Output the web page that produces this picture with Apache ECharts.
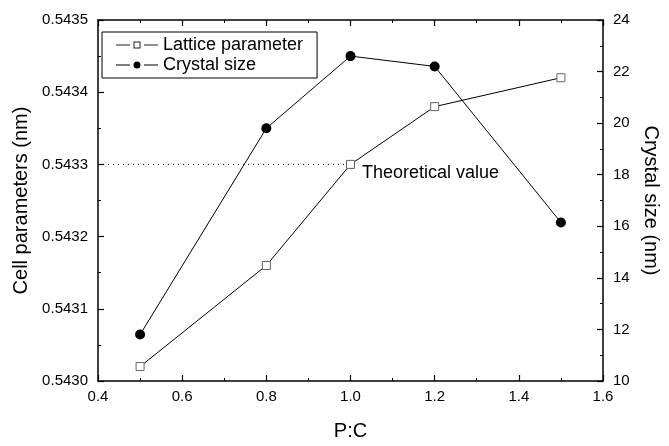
<!DOCTYPE html>
<html>
<head>
<meta charset="utf-8">
<script src="https://cdn.jsdelivr.net/npm/echarts@6/dist/echarts.min.js"></script>
<style>html,body{margin:0;padding:0;background:#fff}#c{width:669px;height:446px}</style>
</head>
<body>
<div id="c"></div>
<script>
const ratios = [0.5, 0.8, 1.0, 1.2, 1.5];
const latticeParam = [0.54302, 0.54316, 0.54330, 0.54338, 0.54342];
const crystalSize = [11.8, 19.8, 22.6, 22.2, 16.15];
const theoreticalValue = 0.5433;
const theoreticalRange = [0.4, 1.0];

const font = 'Liberation Sans, Arial, sans-serif';
const chart = echarts.init(document.getElementById('c'));
const axisCommon = {
  axisLine: {show: true, lineStyle: {color: '#000', width: 1.5}},
  axisTick: {show: true, inside: true, length: 6, lineStyle: {color: '#000', width: 1.2}},
  minorTick: {show: true, splitNumber: 2, length: 3, lineStyle: {color: '#000', width: 1}},
  splitLine: {show: false},
  axisLabel: {color: '#000', fontFamily: font, fontSize: 15},
  nameTextStyle: {color: '#000', fontFamily: font, fontSize: 20}
};
// legend icons: line - marker - line, with gaps around the marker
const iconSquare = 'path://M0 4H14V5H0Z M17.5 1H24.5V8H17.5Z M18.5 2V7H23.5V2Z M28 4H42V5H28Z';
const iconCircle = 'path://M0 4H14V5H0Z M28 4H42V5H28Z M17.5 4.5A3.5 3.5 0 1 0 24.5 4.5A3.5 3.5 0 1 0 17.5 4.5Z';
chart.setOption({
  animation: false,
  grid: {left: 98, right: 66, top: 20, bottom: 53},
  legend: {
    orient: 'vertical', left: 102, top: 32,
    borderColor: '#000', borderWidth: 1, padding: [4, 14, 4, 14], itemGap: 2,
    itemWidth: 42, itemHeight: 9, itemTextGap: 7, symbolKeepAspect: true,
    textStyle: {color: '#000', fontFamily: font, fontSize: 18},
    data: [
      {name: 'Lattice parameter', icon: iconSquare, itemStyle: {color: '#222', borderWidth: 0}},
      {name: 'Crystal size', icon: iconCircle, itemStyle: {color: '#000', borderWidth: 0}}
    ]
  },
  xAxis: [
    Object.assign({}, axisCommon, {type: 'value', min: 0.4, max: 1.6, interval: 0.2, name: 'P:C',
      nameLocation: 'middle', nameGap: 40,
      axisLabel: Object.assign({}, axisCommon.axisLabel, {margin: 8, formatter: v => v.toFixed(1)})}),
    Object.assign({}, axisCommon, {type: 'value', position: 'top', min: 0.4, max: 1.6, interval: 0.2,
      axisLabel: {show: false}})
  ],
  yAxis: [
    Object.assign({}, axisCommon, {type: 'value', min: 0.5430, max: 0.5435, interval: 0.0001,
      name: 'Cell parameters (nm)', nameLocation: 'middle', nameGap: 64,
      axisLabel: Object.assign({}, axisCommon.axisLabel, {margin: 10, formatter: v => v.toFixed(4)})}),
    Object.assign({}, axisCommon, {type: 'value', position: 'right', min: 10, max: 24, interval: 2,
      name: 'Crystal size (nm)', nameLocation: 'middle', nameGap: 32, nameRotate: -90,
      axisLabel: Object.assign({}, axisCommon.axisLabel, {margin: 10})})
  ],
  series: [
    {
      name: 'theoretical', type: 'line', xAxisIndex: 0, yAxisIndex: 0, symbol: 'none',
      lineStyle: {color: '#000', width: 1, type: [1, 4]},
      data: theoreticalRange.map(x => [x, theoreticalValue]),
      silent: true
    },
    {
      name: 'Lattice parameter', type: 'line', xAxisIndex: 0, yAxisIndex: 0,
      symbol: 'rect', symbolSize: 8,
      itemStyle: {color: '#fff', borderColor: '#666', borderWidth: 1},
      lineStyle: {color: '#000', width: 1},
      data: ratios.map((x, i) => [x, latticeParam[i]]),
      label: {show: true, position: 'right', distance: 6, offset: [1, 9], color: '#000', fontFamily: font, fontSize: 18,
        formatter: p => p.dataIndex === 2 ? 'Theoretical value' : ''}
    },
    {
      name: 'Crystal size', type: 'line', xAxisIndex: 0, yAxisIndex: 1,
      symbol: 'circle', symbolSize: 10,
      itemStyle: {color: '#000'},
      lineStyle: {color: '#000', width: 1},
      data: ratios.map((x, i) => [x, crystalSize[i]])
    }
  ]
});
</script>
</body>
</html>
